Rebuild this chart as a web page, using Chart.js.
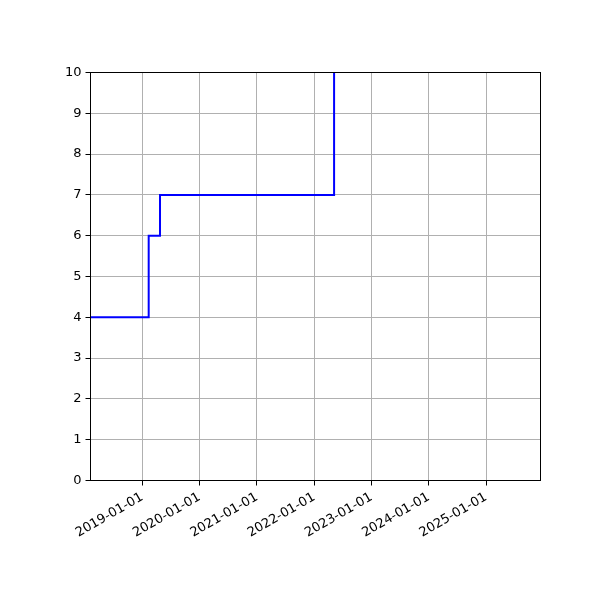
<!DOCTYPE html>
<html>
<head>
<meta charset="utf-8">
<script src="https://cdn.jsdelivr.net/npm/chart.js@4.4.0/dist/chart.umd.min.js"></script>
<style>
  html, body { margin: 0; padding: 0; background: #ffffff; }
  #wrap { width: 600px; height: 600px; }
</style>
</head>
<body>
<div id="wrap"><canvas id="stepChart"></canvas></div>
<script>
// Step data: date the value changes, and the new value
const changeDates = ['2018-02-05', '2019-02-11', '2019-04-24', '2022-05-08'];
const changeValues = [4, 6, 7, 12];

// Axis range and tick labels
const xStart = '2018-02-05';
const xEnd = '2025-12-14';
const yearTicks = ['2019-01-01', '2020-01-01', '2021-01-01', '2022-01-01',
                   '2023-01-01', '2024-01-01', '2025-01-01'];
const yMin = 0;
const yMax = 10;

const toMs = d => Date.parse(d + 'T00:00:00Z');

const points = changeDates.map((d, i) => ({ x: toMs(d), y: changeValues[i] }));

// Frame around the plot area (matplotlib style box)
const frame = {
    id: 'frame',
    afterDraw(chart) {
        const a = chart.chartArea;
        const ctx = chart.ctx;
        ctx.save();
        ctx.strokeStyle = '#000000';
        ctx.lineWidth = 1;
        ctx.strokeRect(a.left, a.top, a.right - a.left, a.bottom - a.top);
        ctx.restore();
    }
};

Chart.defaults.font.family = '"DejaVu Sans", sans-serif';
Chart.defaults.font.size = 13;
Chart.defaults.color = '#000000';

new Chart(document.getElementById('stepChart'), {
    type: 'line',
    data: {
        datasets: [{
            data: points,
            stepped: true,
            borderColor: '#0000ff',
            borderWidth: 2,
            pointRadius: 0,
            fill: false
        }]
    },
    options: {
        responsive: true,
        maintainAspectRatio: false,
        animation: false,
        layout: { padding: { top: 72.5, right: 59.5, left: 0, bottom: 0 } },
        plugins: {
            legend: { display: false },
            tooltip: { enabled: false }
        },
        scales: {
            x: {
                type: 'linear',
                min: toMs(xStart),
                max: toMs(xEnd),
                afterBuildTicks: scale => {
                    scale.ticks = yearTicks.map(d => ({ value: toMs(d) }));
                },
                afterFit: scale => { scale.height = 119.5; },
                ticks: {
                    minRotation: 30,
                    maxRotation: 30,
                    padding: 4,
                    callback: value => new Date(value).toISOString().slice(0, 10)
                },
                grid: {
                    color: '#b0b0b0',
                    lineWidth: 1,
                    tickColor: '#000000',
                    tickLength: 5
                },
                border: { display: false }
            },
            y: {
                min: yMin,
                max: yMax,
                afterFit: scale => { scale.width = 90.5; },
                ticks: { stepSize: 1, padding: 4 },
                grid: {
                    color: '#b0b0b0',
                    lineWidth: 1,
                    tickColor: '#000000',
                    tickLength: 5
                },
                border: { display: false }
            }
        }
    },
    plugins: [frame]
});
</script>
</body>
</html>
